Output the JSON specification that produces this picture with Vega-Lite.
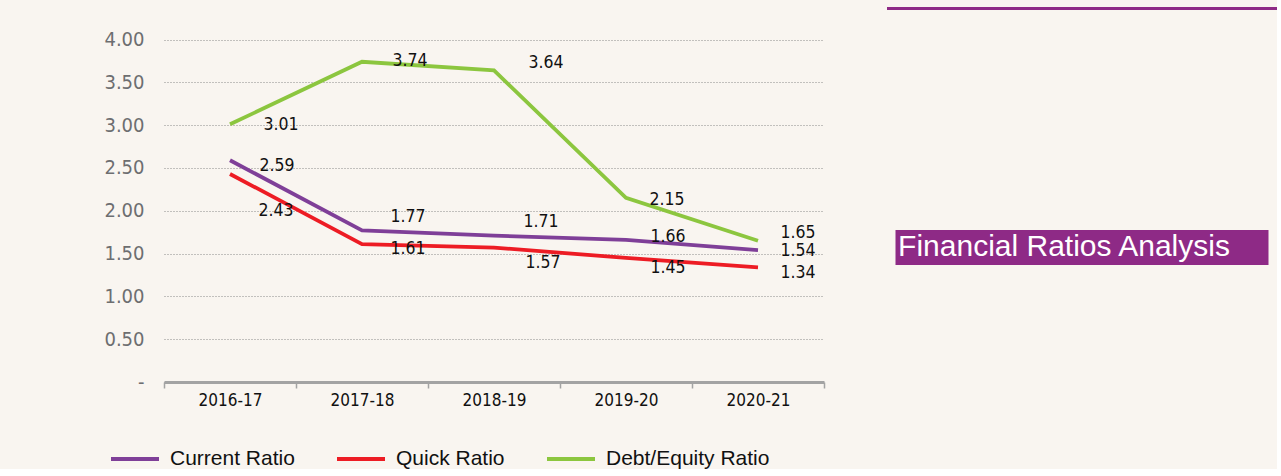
{
  "$schema": "https://vega.github.io/schema/vega-lite/v6.json",
  "background": "#f9f5f0",
  "padding": {"left": 103, "top": 7, "right": 0, "bottom": 0},
  "config": {
    "view": {"stroke": null},
    "font": "DejaVu Sans Condensed, sans-serif"
  },
  "spacing": 62,
  "resolve": {"scale": {"color": "independent"}},
  "hconcat": [
    {
      "width": 660,
      "height": 375,
      "data": {
        "values": [
          {"year": "2016-17", "series": "Current Ratio", "value": 2.59},
          {"year": "2017-18", "series": "Current Ratio", "value": 1.77},
          {"year": "2018-19", "series": "Current Ratio", "value": 1.71},
          {"year": "2019-20", "series": "Current Ratio", "value": 1.66},
          {"year": "2020-21", "series": "Current Ratio", "value": 1.54},
          {"year": "2016-17", "series": "Quick Ratio", "value": 2.43},
          {"year": "2017-18", "series": "Quick Ratio", "value": 1.61},
          {"year": "2018-19", "series": "Quick Ratio", "value": 1.57},
          {"year": "2019-20", "series": "Quick Ratio", "value": 1.45},
          {"year": "2020-21", "series": "Quick Ratio", "value": 1.34},
          {"year": "2016-17", "series": "Debt/Equity Ratio", "value": 3.01},
          {"year": "2017-18", "series": "Debt/Equity Ratio", "value": 3.74},
          {"year": "2018-19", "series": "Debt/Equity Ratio", "value": 3.64},
          {"year": "2019-20", "series": "Debt/Equity Ratio", "value": 2.15},
          {"year": "2020-21", "series": "Debt/Equity Ratio", "value": 1.65}
        ]
      },
      "encoding": {
        "x": {
          "field": "year",
          "type": "ordinal",
          "scale": {"type": "band", "paddingInner": 0, "paddingOuter": 0},
          "axis": {
            "title": null,
            "labelAngle": 0,
            "domainColor": "#a3a3a3",
            "domainWidth": 3,
            "tickColor": "#a3a3a3",
            "tickSize": 6,
            "tickWidth": 1.5,
            "tickBand": "extent",
            "labelPadding": 4,
            "labelColor": "#111111",
            "labelFontSize": 17,
            "grid": false
          }
        },
        "y": {
          "field": "value",
          "type": "quantitative",
          "scale": {"domain": [0, 4.38], "nice": false, "zero": true},
          "axis": {
            "title": null,
            "values": [0, 0.5, 1, 1.5, 2, 2.5, 3, 3.5, 4],
            "labelExpr": "datum.value == 0 ? '-' : format(datum.value, '.2f')",
            "domain": false,
            "ticks": false,
            "labelPadding": 20,
            "labelColor": "#6d6e70",
            "labelFontSize": 20,
            "grid": true,
            "gridDash": [1, 2],
            "gridColor": "#8a8a8a",
            "gridWidth": 1
          }
        }
      },
      "layer": [
        {
          "mark": {"type": "line", "strokeWidth": 3.8},
          "encoding": {
            "color": {
              "field": "series",
              "type": "nominal",
              "scale": {
                "domain": ["Current Ratio", "Quick Ratio", "Debt/Equity Ratio"],
                "range": ["#7f3f98", "#ed1c24", "#8cc63f"]
              },
              "legend": {
                "title": null,
                "orient": "none",
                "legendX": -55,
                "legendY": 426,
                "direction": "horizontal",
                "symbolType": "stroke",
                "symbolSize": 2304,
                "symbolStrokeWidth": 4,
                "labelFont": "Liberation Sans",
                "labelFontSize": 21,
                "labelColor": "#111111",
                "labelOffset": 9,
                "columnPadding": 34,
                "padding": 0,
                "labelLimit": 300
              }
            }
          }
        },
        {
          "transform": [{"filter": "datum.series == 'Debt/Equity Ratio'"}],
          "mark": {
            "type": "text", "fontSize": 17.5, "color": "#111111",
            "dx": {"expr": "{'2016-17': 51, '2017-18': 48, '2018-19': 52, '2019-20': 41, '2020-21': 40}[datum.year]"},
            "dy": {"expr": "{'2016-17': 1, '2017-18': -1, '2018-19': -7, '2019-20': 2, '2020-21': -8}[datum.year]"}
          },
          "encoding": {"text": {"field": "value", "type": "quantitative", "format": ".2f"}}
        },
        {
          "transform": [{"filter": "datum.series == 'Current Ratio'"}],
          "mark": {
            "type": "text", "fontSize": 17.5, "color": "#111111",
            "dx": {"expr": "{'2016-17': 47, '2017-18': 46, '2018-19': 47, '2019-20': 42, '2020-21': 40}[datum.year]"},
            "dy": {"expr": "{'2016-17': 6, '2017-18': -13, '2018-19': -14, '2019-20': -3, '2020-21': 1}[datum.year]"}
          },
          "encoding": {"text": {"field": "value", "type": "quantitative", "format": ".2f"}}
        },
        {
          "transform": [{"filter": "datum.series == 'Quick Ratio'"}],
          "mark": {
            "type": "text", "fontSize": 17.5, "color": "#111111",
            "dx": {"expr": "{'2016-17': 46, '2017-18': 46, '2018-19': 49, '2019-20': 42, '2020-21': 40}[datum.year]"},
            "dy": {"expr": "{'2016-17': 37, '2017-18': 5, '2018-19': 15, '2019-20': 10, '2020-21': 6}[datum.year]"}
          },
          "encoding": {"text": {"field": "value", "type": "quantitative", "format": ".2f"}}
        }
      ]
    },
    {
      "spacing": 220,
      "center": true,
      "vconcat": [
        {
          "width": 390,
          "height": 3,
          "view": {"fill": "#8e2a86", "stroke": null},
          "data": {"values": []},
          "mark": "point"
        },
        {
          "width": 373,
          "height": 35,
          "view": {"fill": "#8e2a86", "stroke": null},
          "data": {"values": [{"t": "Financial Ratios Analysis"}]},
          "mark": {
            "type": "text",
            "color": "#ffffff",
            "font": "Liberation Sans",
            "fontSize": 30,
            "align": "center",
            "baseline": "middle",
            "dx": -18,
            "dy": -1
          },
          "encoding": {"text": {"field": "t", "type": "nominal"}}
        }
      ]
    }
  ]
}
